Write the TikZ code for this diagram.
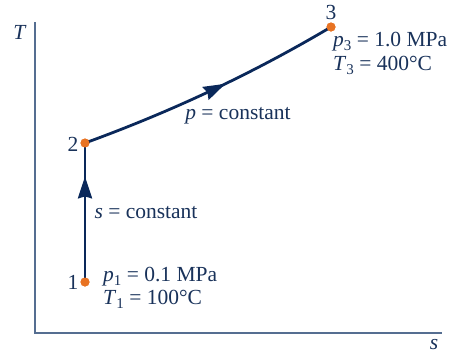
\documentclass[tikz,border=0pt]{standalone}
\usepackage{fontspec}
\setmainfont{Liberation Serif}
\usetikzlibrary{arrows.meta,decorations.markings}
\definecolor{navy}{RGB}{10,40,90}
\definecolor{txtc}{RGB}{25,50,90}
\definecolor{axisc}{RGB}{85,110,145}
\definecolor{dotc}{RGB}{232,115,35}
\newcommand\lowsub[1]{\raisebox{-0.42ex}{\fontsize{15}{15}\selectfont #1}}
\tikzset{
  axisline/.style={draw=axisc, line width=1.6pt},
  procline/.style={draw=navy, line width=2.8pt},
  statedot/.style={circle, fill=dotc, inner sep=0pt, minimum size=9pt},
  lbl/.style={text=txtc, font=\fontsize{21.5}{23.5}\selectfont, inner sep=1pt},
  midarrow/.style={postaction={decorate}, decoration={markings,
     mark=at position #1 with {\arrow{Stealth[length=22pt,width=14pt,inset=2pt]}}}}
}
\begin{document}
\begin{tikzpicture}[x=1pt,y=-1pt]
\useasboundingbox (0,0) rectangle (450,354);
% axes
\coordinate (orig) at (35,333);
\coordinate (ytop) at (35,22);
\coordinate (xend) at (442,333);
\draw[axisline] (ytop) -- (orig) -- (xend);
\node[lbl] (Tax) at (20,32) {\textit{T}};
\node[lbl] (sax) at (434,345) {\textit{s}};
% states
\node[statedot] (n1) at (85,282) {};
\node[statedot] (n2) at (85,143) {};
\node[statedot] (n3) at (331,27) {};
% processes
\draw[procline, midarrow=0.76] (n1.center) -- (n2.center);
\draw[procline, midarrow=0.56] (n2.center) .. controls (170,112) and (250,75) .. (n3.center);
\node[statedot] at (n1) {};
\node[statedot] at (n2) {};
\node[statedot] at (n3) {};
% labels
\node[lbl] (l1) at (73,282) {1};
\node[lbl] (l2) at (73,144) {2};
\node[lbl] (l3) at (331,12) {3};
\node[lbl] (pc) at (238,116) {\textit{p} = constant};
\node[lbl] (sc) at (146,213) {\textit{s} = constant};
\node[lbl, anchor=base west] (s1p) at (102,281) {\textit{p}\lowsub{1} = 0.1 MPa};
\node[lbl, anchor=base west] (s1t) at (102,304.5) {\textit{T}\lowsub{1} = 100°C};
\node[lbl, anchor=base west] (s3p) at (332,46) {\textit{p}\lowsub{3} = 1.0 MPa};
\node[lbl, anchor=base west] (s3t) at (332,70) {\textit{T}\lowsub{3} = 400°C};
\end{tikzpicture}
\end{document}
